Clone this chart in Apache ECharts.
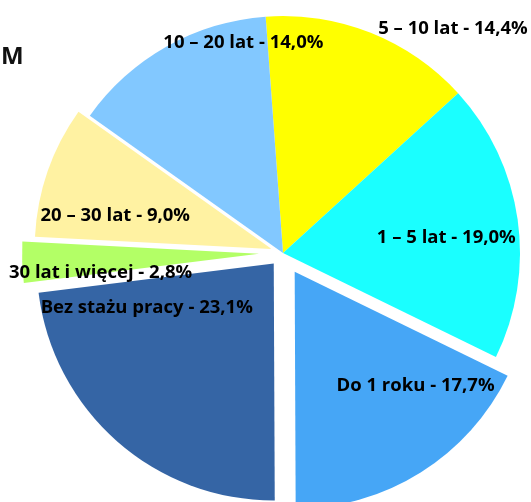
<!DOCTYPE html>
<html>
<head>
<meta charset="utf-8">
<script src="https://cdn.jsdelivr.net/npm/echarts@6/dist/echarts.min.js"></script>
<style>
  html, body { margin: 0; padding: 0; background: #fff; }
  #chart { width: 531px; height: 502px; }
</style>
</head>
<body>
<div id="chart"></div>
<script>
// dane: staż pracy (kolejność zgodnie z ruchem wskazówek zegara od góry)
const categories = ['5 – 10 lat', '1 – 5 lat', 'Do 1 roku', 'Bez stażu pracy', '30 lat i więcej', '20 – 30 lat', '10 – 20 lat'];
const values = [14.4, 19.0, 17.7, 23.1, 2.8, 9.0, 14.0];

// wygląd
const colors = ['#ffff00', '#1affff', '#46a6f6', '#3565a5', '#b3ff66', '#fff2a2', '#82c8ff'];
const explode = [0, 0, 22, 14, 24, 12, 0];
const labelOffsets = [[125, -111], [43, 2], [68, 30], [-56, -36], [-61, 15], [-53, 3], [20, -104]];

const fmt = v => v.toFixed(1).replace('.', ',');

const chart = echarts.init(document.getElementById('chart'));

// osobna seria dla każdego wysunięcia (selectedOffset jest ustawiany na serię)
const offsets = [...new Set(explode)];
const series = offsets.map(off => ({
  type: 'pie',
  center: [283, 253],
  radius: [0, 237],
  startAngle: 94.2,
  clockwise: true,
  selectedMode: 'multiple',
  selectedOffset: off,
  silent: true,
  z: off === 0 ? 3 : 2,
  label: {
    show: off === 0,
    position: 'inside',
    color: '#000',
    fontFamily: 'Open Sans',
    fontWeight: 'bold',
    fontSize: 18.5,
    formatter: p => p.name + ' - ' + fmt(p.value) + '%'
  },
  labelLine: { show: false },
  labelLayout: p => ({ dx: labelOffsets[p.dataIndex][0], dy: labelOffsets[p.dataIndex][1] }),
  emphasis: { disabled: true },
  data: values.map((v, i) => ({
    name: categories[i],
    value: v,
    selected: off > 0 && explode[i] === off,
    itemStyle: { color: explode[i] === off ? colors[i] : 'rgba(0,0,0,0)' }
  }))
}));

chart.setOption({
  animation: false,
  backgroundColor: '#fff',
  title: {
    text: 'M',
    left: 1,
    top: 45,
    padding: 0,
    textStyle: { fontFamily: 'Open Sans', fontWeight: 'bold', fontSize: 24, color: '#111' }
  },
  series: series
});
</script>
</body>
</html>
